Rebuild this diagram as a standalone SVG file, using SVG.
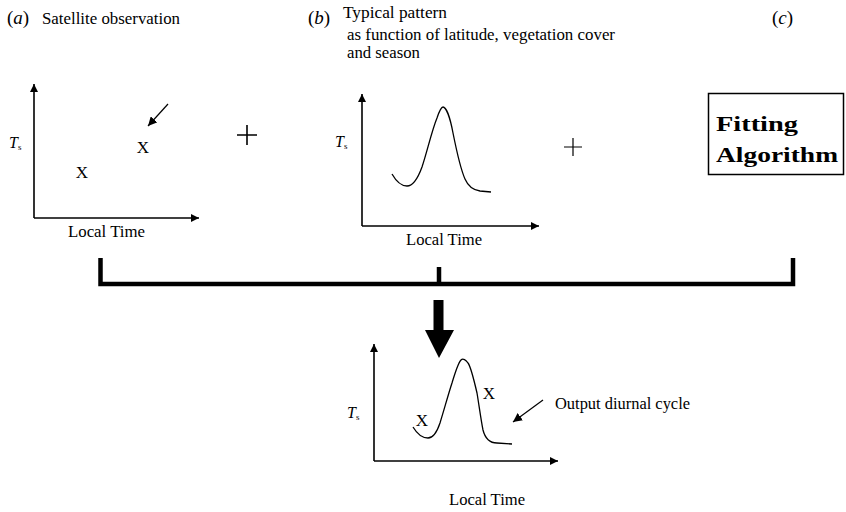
<svg xmlns="http://www.w3.org/2000/svg" width="846" height="512" viewBox="0 0 846 512">
<style>
text{font-family:"Liberation Serif","Times New Roman",serif;fill:#000}
.t{font-size:16px}
.lbl{font-size:19px}
.ax{fill:none;stroke:#000;stroke-width:1.6}
.cv{fill:none;stroke:#000;stroke-width:1.3}
.thin{fill:none;stroke:#000;stroke-width:1.2}
.br{fill:none;stroke:#000;stroke-width:4.5}
.x{font-size:17px}
.bold{font-size:22px;font-weight:bold}
</style>
<defs>
<marker id="ah" viewBox="0 0 10 10" refX="10" refY="5" markerWidth="9" markerHeight="8" markerUnits="userSpaceOnUse" orient="auto">
<path d="M0,0 L10,5 L0,10 z" fill="#000"/>
</marker>
<marker id="ph" viewBox="0 0 10 10" refX="10" refY="5" markerWidth="9" markerHeight="9" markerUnits="userSpaceOnUse" orient="auto">
<path d="M0,0 L10,5 L0,10 z" fill="#000"/>
</marker>
</defs>

<g id="panel-a">
<text class="lbl" x="7" y="24">(<tspan font-style="italic">a</tspan>)</text>
<text class="t" x="42" y="24" textLength="138" lengthAdjust="spacingAndGlyphs">Satellite observation</text>
<path class="ax" d="M34,218 V84" marker-end="url(#ah)"/>
<path class="ax" d="M34,218 H199" marker-end="url(#ah)"/>
<text class="t" x="9" y="148"><tspan font-style="italic">T</tspan><tspan font-size="9" dy="2">s</tspan></text>
<text class="x" x="82" y="178" text-anchor="middle">X</text>
<text class="x" x="143" y="153" text-anchor="middle">X</text>
<path class="thin" d="M168,104 L148,126" marker-end="url(#ph)"/>
<text class="t" x="68" y="237" textLength="77" lengthAdjust="spacingAndGlyphs">Local Time</text>
<path class="ax" d="M237,135 H257 M247,125 V145"/>
</g>

<g id="panel-b">
<text class="lbl" x="308" y="24">(<tspan font-style="italic">b</tspan>)</text>
<text class="t" x="343" y="18" textLength="104" lengthAdjust="spacingAndGlyphs">Typical pattern</text>
<text class="t" x="347" y="40" textLength="268" lengthAdjust="spacingAndGlyphs">as function of latitude, vegetation cover</text>
<text class="t" x="347" y="58" textLength="73" lengthAdjust="spacingAndGlyphs">and season</text>
<path class="ax" d="M362,226 V94" marker-end="url(#ah)"/>
<path class="ax" d="M362,226 H539" marker-end="url(#ah)"/>
<text class="t" x="335" y="147"><tspan font-style="italic">T</tspan><tspan font-size="9" dy="2">s</tspan></text>
<path class="cv" d="M392,174 C396,181 401,186 407,186 C413,186 418,178 422,167 C427,152 432,130 437,118 C439,112 441,107 443,107 C446,107 450,117 453,133 C456,148 461,170 465,179 C468,186 473,190 480,191 L491,192"/>
<text class="t" x="406" y="245" textLength="76" lengthAdjust="spacingAndGlyphs">Local Time</text>
<path class="thin" d="M564,147 H582 M573,138 V156"/>
</g>

<g id="panel-c">
<text class="lbl" x="772" y="24">(<tspan font-style="italic">c</tspan>)</text>
<rect x="708.5" y="93.5" width="135" height="81" fill="none" stroke="#000" stroke-width="1.5"/>
<text class="bold" x="716" y="131" textLength="82" lengthAdjust="spacingAndGlyphs">Fitting</text>
<text class="bold" x="716" y="162" textLength="122" lengthAdjust="spacingAndGlyphs">Algorithm</text>
</g>

<g id="connectors">
<path class="br" d="M100.5,258 V284 H793 V258"/>
<path class="br" d="M439,267 V284"/>
<path d="M433.5,300 H443.5 V330 H454 L439,358 L425,330 H433.5 z" fill="#000"/>
</g>

<g id="output">
<path class="ax" d="M374,461 V344" marker-end="url(#ah)"/>
<path class="ax" d="M374,461 H558" marker-end="url(#ah)"/>
<text class="t" x="347" y="418"><tspan font-style="italic">T</tspan><tspan font-size="9" dy="2">s</tspan></text>
<path class="cv" d="M413,427 C416,432 421,438 428,438 C433,438 437,432 440,423 C444,410 449,392 452,383 C455,373 458,363 461,360 C463,358 466,360 468,363 C471,367 474,380 477,393 C479,405 481,420 483,430 C485,438 490,443 497,443 L512,444"/>
<text class="x" x="422" y="426" text-anchor="middle">X</text>
<text class="x" x="489" y="399" text-anchor="middle">X</text>
<path class="thin" d="M543,400 L513,422" marker-end="url(#ph)"/>
<text class="t" x="555" y="409" textLength="135" lengthAdjust="spacingAndGlyphs">Output diurnal cycle</text>
<text class="t" x="449" y="505" textLength="76" lengthAdjust="spacingAndGlyphs">Local Time</text>
</g>
</svg>
